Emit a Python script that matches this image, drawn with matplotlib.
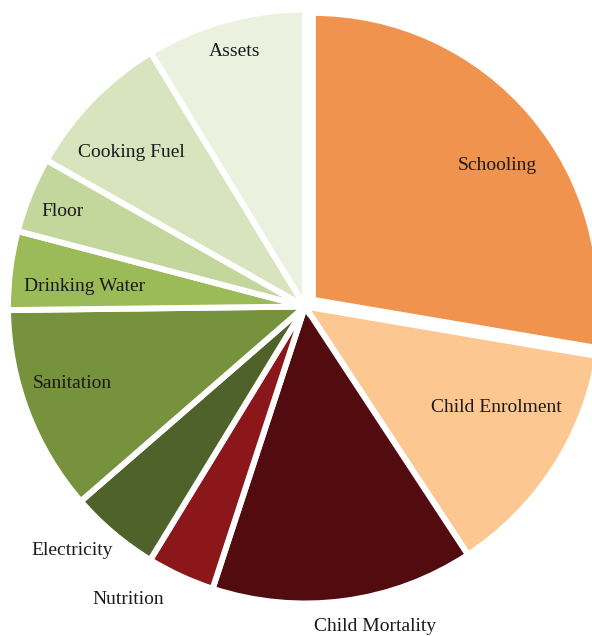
import numpy as np
import matplotlib.pyplot as plt

# Indicator shares (percent), clockwise from 12 o'clock
labels = ["Schooling", "Child Enrolment", "Child Mortality", "Nutrition",
          "Electricity", "Sanitation", "Drinking Water", "Floor",
          "Cooking Fuel", "Assets"]
shares = [27.67, 13.08, 14.28, 3.69, 4.89, 11.19, 4.28, 4.11, 8.11, 8.69]
colors = ["#F0934E", "#FDC791", "#520C10", "#8B171A", "#4F6229",
          "#76923C", "#9BBB59", "#C3D69B", "#D7E4BD", "#EBF1DE"]
explode = [0.035, 0, 0, 0, 0, 0, 0, 0, 0, 0]
# radial position of each label (fraction of radius)
label_r = [0.77, 0.727, 1.104, 1.154, 1.137, 0.826, 0.744, 0.878, 0.783, 0.889]
# small angular nudge of each label (degrees)
label_dt = [-4.1, 5.3, 4.7, -6.35, -3.4, -2.65, 1.7, 0.8, 2.5, -0.25]

plt.rcParams['font.family'] = ['Liberation Serif', 'DejaVu Serif']

W, H = 592, 636
fig = plt.figure(figsize=(W / 100, H / 100), dpi=100)
cx, cy, R = 305, 306.5, 297
ax = fig.add_axes([(cx - R) / W, (H - cy - R) / H, 2 * R / W, 2 * R / H])

wedges, _ = ax.pie(shares, colors=colors, startangle=90, counterclock=False,
                   explode=explode, radius=1,
                   wedgeprops=dict(edgecolor="white", linewidth=4.3))
# the pulled-out slice is drawn a little smaller
wedges[0].set_radius(0.966)

for w, lab, r, dt, ex in zip(wedges, labels, label_r, label_dt, explode):
    mid = np.deg2rad((w.theta1 + w.theta2) / 2)
    ang = np.deg2rad((w.theta1 + w.theta2) / 2 + dt)
    x = ex * np.cos(mid) + r * np.cos(ang)
    y = ex * np.sin(mid) + r * np.sin(ang)
    ax.text(x, y, lab, ha="center", va="center", fontsize=14, color="#1a1a1a")

ax.set_xlim(-1, 1)
ax.set_ylim(-1, 1)
ax.set_aspect("auto")
ax.axis("off")

fig.savefig("out.png", dpi=100)
